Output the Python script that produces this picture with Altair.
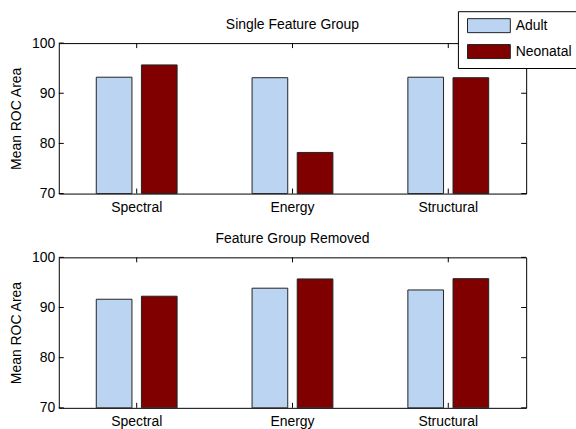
import altair as alt
import pandas as pd

# Mean ROC area per feature group, for adult and neonatal data
categories = ["Spectral", "Energy", "Structural"]
groups = ["Adult", "Neonatal"]
adult_single = [93.2, 93.1, 93.2]
neonatal_single = [95.65, 78.2, 93.1]
adult_removed = [91.65, 93.85, 93.5]
neonatal_removed = [92.25, 95.7, 95.75]
y_ticks = [70, 80, 90, 100]

colors = ["#bad4f2", "#800000"]
FONT = "Liberation Sans"
W, H = 469, 151


def long_table(adult, neonatal):
    rows = []
    for c, a, n in zip(categories, adult, neonatal):
        rows.append({"Category": c, "Group": "Adult", "Value": a})
        rows.append({"Category": c, "Group": "Neonatal", "Value": n})
    return pd.DataFrame(rows)


tick_df = pd.DataFrame({"tick": y_ticks})
cat_df = pd.DataFrame({"Category": categories})

x_scale = alt.Scale(domain=categories, paddingInner=0, paddingOuter=0)
y_scale = alt.Scale(domain=[70, 100], zero=False, nice=False)

# wide flat swatch: the path is scaled by sqrt(size)/2
SWATCH = "M-0.68,-0.98L5.32,-0.98L5.32,0.98L-0.68,0.98Z"
SWATCH_SIZE = 205


def panel(df, title, show_legend):
    legend = (
        alt.Legend(
            title=None,
            orient="none",
            legendX=400.5,
            legendY=-32,
            symbolType=SWATCH,
            symbolSize=SWATCH_SIZE,
            symbolStrokeColor="#222222",
            symbolStrokeWidth=1,
            labelFont=FONT,
            labelFontSize=14,
            labelColor="black",
            labelOffset=35.5,
            rowPadding=6,
            padding=6.5,
            strokeColor="black",
            fillColor="white",
        )
        if show_legend
        else None
    )
    bars = alt.Chart(df).mark_bar(stroke="#222222", strokeWidth=1).encode(
        x=alt.X(
            "Category:N",
            scale=x_scale,
            sort=categories,
            axis=alt.Axis(
                title=None,
                ticks=False,
                domain=False,
                labelAngle=0,
                labelFont=FONT,
                labelFontSize=14,
                labelColor="black",
                labelPadding=7,
            ),
        ),
        xOffset=alt.XOffset(
            "Group:N",
            scale=alt.Scale(domain=groups, paddingInner=0.21, paddingOuter=0.83),
        ),
        y=alt.Y(
            "Value:Q",
            scale=y_scale,
            axis=alt.Axis(
                title="Mean ROC Area",
                values=y_ticks,
                ticks=False,
                domain=False,
                grid=False,
                labelFont=FONT,
                labelFontSize=14,
                labelColor="black",
                labelPadding=4,
                titleFont=FONT,
                titleFontSize=14,
                titleFontWeight="normal",
                titleColor="black",
                titlePadding=8,
            ),
        ),
        y2=alt.datum(70),
        color=alt.Color(
            "Group:N",
            scale=alt.Scale(domain=groups, range=colors),
            legend=legend,
        ),
    )
    # inward tick marks on all four sides, as on a boxed plot
    ytick_l = alt.Chart(tick_df).mark_rule(color="black", strokeWidth=1).encode(
        y=alt.Y("tick:Q", scale=y_scale), x=alt.value(0), x2=alt.value(5)
    )
    ytick_r = alt.Chart(tick_df).mark_rule(color="black", strokeWidth=1).encode(
        y=alt.Y("tick:Q", scale=y_scale), x=alt.value(W - 5), x2=alt.value(W)
    )
    xtick_b = alt.Chart(cat_df).mark_rule(color="black", strokeWidth=1).encode(
        x=alt.X("Category:N", scale=x_scale, sort=categories),
        y=alt.value(H - 5),
        y2=alt.value(H),
    )
    xtick_t = alt.Chart(cat_df).mark_rule(color="black", strokeWidth=1).encode(
        x=alt.X("Category:N", scale=x_scale, sort=categories),
        y=alt.value(0),
        y2=alt.value(5),
    )
    return alt.layer(bars, ytick_l, ytick_r, xtick_b, xtick_t).properties(
        width=W,
        height=H,
        title=alt.TitleParams(
            title, font=FONT, fontSize=14, fontWeight="normal", color="black", offset=4
        ),
    )


top = panel(long_table(adult_single, neonatal_single), "Single Feature Group", True)
bottom = panel(long_table(adult_removed, neonatal_removed), "Feature Group Removed", False)

chart = (
    alt.vconcat(top, bottom, spacing=16)
    .properties(
        # the legend frame runs just past the right edge and is cut there
        padding={"left": 9, "top": 9.5, "right": -3, "bottom": 0},
        background="white",
    )
    .configure_view(stroke="black", strokeWidth=1)
)

chart.save("out.html", embed_options={"renderer": "svg", "actions": False})
